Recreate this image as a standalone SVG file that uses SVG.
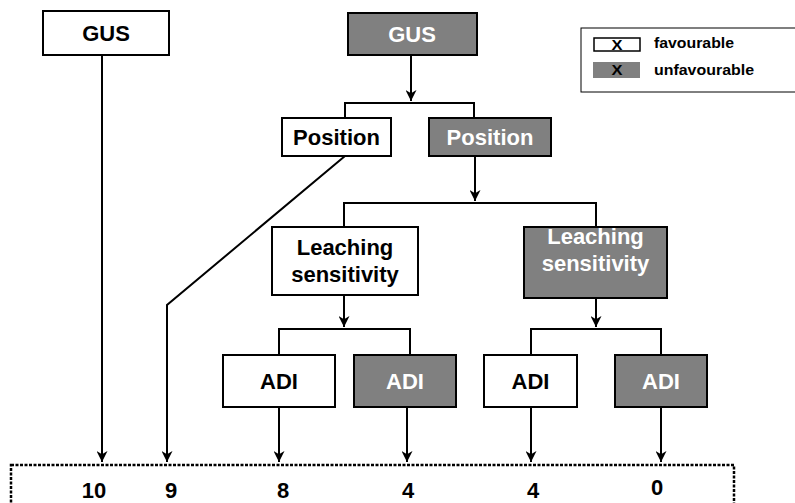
<svg xmlns="http://www.w3.org/2000/svg" width="795" height="503" viewBox="0 0 795 503">
<defs>
<marker id="ah" viewBox="0 0 10 10" refX="10" refY="5" markerWidth="5.5" markerHeight="5.5" markerUnits="strokeWidth" orient="auto">
<path d="M0,0 L10,5 L0,10 L3,5 z" fill="#000"/>
</marker>
<style>
text{font-family:"Liberation Sans",Arial,sans-serif;font-weight:bold;text-anchor:middle}
.w rect{fill:#fff;stroke:#000;stroke-width:2}
.g rect{fill:#808080;stroke:#000;stroke-width:2}
.w text{fill:#000;font-size:22px}
.g text{fill:#fff;font-size:22px}
.c path{fill:none;stroke:#000;stroke-width:2}
.c .a{marker-end:url(#ah)}
.num{font-size:22px;fill:#000}
.lg{font-size:14px;text-anchor:start}
</style>
</defs>
<rect width="795" height="503" fill="#fff"/>
<g id="gus-fav" class="w"><rect x="43" y="11" width="126" height="44"/><text x="106" y="41">GUS</text></g>
<g id="gus-unfav" class="g"><rect x="348" y="13" width="129" height="42"/><text x="412" y="42">GUS</text></g>
<g id="pos-fav" class="w"><rect x="282" y="118" width="109" height="38"/><text x="336.5" y="145">Position</text></g>
<g id="pos-unfav" class="g"><rect x="429" y="118" width="122" height="38"/><text x="490" y="145">Position</text></g>
<g id="leach-fav" class="w"><rect x="272" y="227" width="146" height="68"/><text x="345" y="255">Leaching</text><text x="345" y="282">sensitivity</text></g>
<g id="leach-unfav" class="g"><rect x="524" y="227" width="143" height="71"/><text x="595.5" y="244">Leaching</text><text x="595.5" y="271">sensitivity</text></g>
<g id="adi1" class="w"><rect x="223" y="355" width="112" height="52"/><text x="279" y="389">ADI</text></g>
<g id="adi2" class="g"><rect x="354" y="355" width="102" height="52"/><text x="405" y="389">ADI</text></g>
<g id="adi3" class="w"><rect x="484" y="355" width="93" height="52"/><text x="530.5" y="389">ADI</text></g>
<g id="adi4" class="g"><rect x="615" y="355" width="92" height="52"/><text x="661" y="389">ADI</text></g>
<g id="connectors" class="c">
<path class="a" d="M102,55 V462"/>
<path class="a" d="M411,55 V101"/>
<path d="M345,118 V103 H474 V118"/>
<path class="a" d="M345,156 L167,305 V462"/>
<path class="a" d="M475,156 V201"/>
<path d="M344,227 V203 H596 V227"/>
<path class="a" d="M344,295 V327"/>
<path d="M279,355 V329 H410 V355"/>
<path class="a" d="M596,298 V327"/>
<path d="M531,355 V329 H661 V355"/>
<path class="a" d="M279,407 V462"/>
<path class="a" d="M407,407 V462"/>
<path class="a" d="M531,407 V462"/>
<path class="a" d="M661,407 V462"/>
</g>
<g id="results">
<rect x="11" y="465" width="723" height="45" fill="none" stroke="#000" stroke-width="2.5" stroke-dasharray="3,1.5"/>
<text class="num" x="94" y="498">10</text>
<text class="num" x="171" y="498">9</text>
<text class="num" x="283" y="498">8</text>
<text class="num" x="408" y="498">4</text>
<text class="num" x="533" y="498">4</text>
<text class="num" x="657" y="495">0</text>
</g>
<g id="legend">
<rect x="581" y="28" width="220" height="64" fill="#fff" stroke="#000" stroke-width="1"/>
<rect x="594" y="38" width="46" height="13" fill="#fff" stroke="#000" stroke-width="1.5"/>
<text x="617" y="50" font-size="14" textLength="11" lengthAdjust="spacingAndGlyphs">X</text>
<rect x="593" y="62" width="47" height="16" fill="#808080"/>
<text x="617" y="75" font-size="14" textLength="11" lengthAdjust="spacingAndGlyphs">X</text>
<text class="lg" x="654" y="48" textLength="80" lengthAdjust="spacingAndGlyphs">favourable</text>
<text class="lg" x="654" y="75" textLength="100" lengthAdjust="spacingAndGlyphs">unfavourable</text>
</g>
</svg>
